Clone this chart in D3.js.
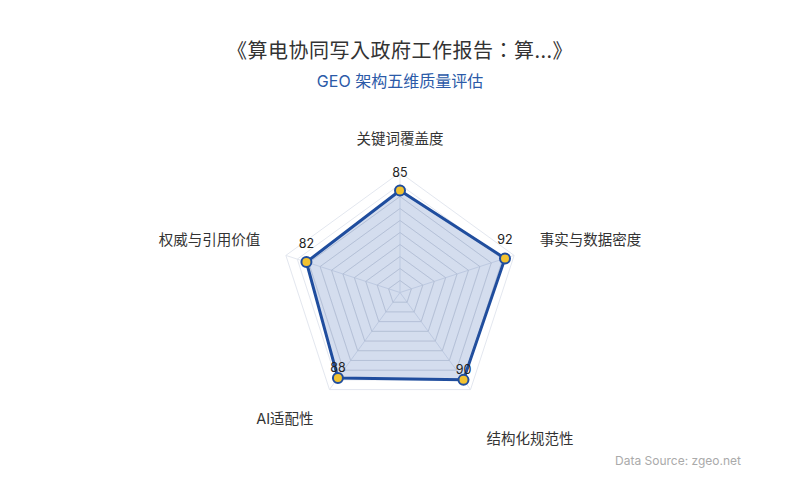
<!DOCTYPE html>
<html>
<head>
<meta charset="utf-8">
<script src="https://cdn.jsdelivr.net/npm/d3@7/dist/d3.min.js"></script>
<style>
  body { margin: 0; background: #fff; }
  svg { display: block; font-family: Inter, "Noto Sans CJK SC", sans-serif; }
</style>
</head>
<body>
<svg id="chart" width="800" height="500"></svg>
<script>
const title = "《算电协同写入政府工作报告：算...》"
const subtitle = "GEO 架构五维质量评估"
const source = "Data Source: zgeo.net"

// axes (clockwise from top) and scores
const dimensions = ["关键词覆盖度", "事实与数据密度", "结构化规范性", "AI适配性", "权威与引用价值"]
const scores = [85, 92, 90, 88, 82]
const maxScore = 100
const ringLevels = [10, 20, 30, 40, 50, 60, 70, 80, 90, 100]

const svg = d3.select("#chart")
const cx = 400, cy = 292.5, R = 120

const r = d3.scaleLinear().domain([0, maxScore]).range([0, R])
const angle = d3.scalePoint().domain(dimensions).range([0, 2 * Math.PI * 4 / 5])

function pt(dim, v) {
  const a = angle(dim) - Math.PI / 2
  return [cx + r(v) * Math.cos(a), cy + r(v) * Math.sin(a)]
}

// titles
svg.append("text")
  .attr("x", 400).attr("y", 58)
  .attr("text-anchor", "middle")
  .attr("font-size", 20)
  .attr("letter-spacing", 0.5)
  .attr("font-family", "'Noto Sans CJK JP', sans-serif")
  .attr("fill", "#333")
  .text(title)

svg.append("text")
  .attr("x", 400).attr("y", 87)
  .attr("text-anchor", "middle")
  .attr("font-size", 16)
  .attr("fill", "#2b5aa8")
  .text(subtitle)

// grid rings
const g = svg.append("g")
g.selectAll("polygon.ring")
  .data(ringLevels)
  .join("polygon")
  .attr("class", "ring")
  .attr("points", d => dimensions.map(k => pt(k, d).join(",")).join(" "))
  .attr("fill", "none")
  .attr("stroke", "#e3e7ef")
  .attr("stroke-width", 1)

// spokes
g.selectAll("line.spoke")
  .data(dimensions)
  .join("line")
  .attr("class", "spoke")
  .attr("x1", cx).attr("y1", cy)
  .attr("x2", d => pt(d, maxScore)[0])
  .attr("y2", d => pt(d, maxScore)[1])
  .attr("stroke", "#e3e7ef")

// data area
const pts = dimensions.map((d, i) => pt(d, scores[i]))
g.append("polygon")
  .attr("points", pts.map(p => p.join(",")).join(" "))
  .attr("fill", "rgba(40,85,170,0.2)")
  .attr("stroke", "#1f4d9e")
  .attr("stroke-width", 3)
  .attr("stroke-linejoin", "round")

// grid lines show through the fill
svg.append("clipPath").attr("id", "clipArea")
  .append("polygon")
  .attr("points", pts.map(p => p.join(",")).join(" "))

g.selectAll("polygon.ringIn")
  .data(ringLevels)
  .join("polygon")
  .attr("class", "ringIn")
  .attr("points", d => dimensions.map(k => pt(k, d).join(",")).join(" "))
  .attr("fill", "none")
  .attr("stroke", "rgba(120,130,150,0.12)")
  .attr("clip-path", "url(#clipArea)")

// points
g.selectAll("circle")
  .data(pts)
  .join("circle")
  .attr("cx", d => d[0]).attr("cy", d => d[1])
  .attr("r", 5)
  .attr("fill", "#f2c230")
  .attr("stroke", "#1f4d9e")
  .attr("stroke-width", 2)

// value labels
g.selectAll("text.val")
  .data(pts)
  .join("text")
  .attr("class", "val")
  .attr("x", d => d[0])
  .attr("y", d => d[1] - (d[1] > cy ? 6 : 14))
  .attr("text-anchor", "middle")
  .attr("font-size", 12.5)
  .attr("fill", "#222")
  .text((d, i) => scores[i])

// axis names
const nameR = R + 27
g.selectAll("text.name")
  .data(dimensions)
  .join("text")
  .attr("class", "name")
  .each(function (d) {
    const a = angle(d) - Math.PI / 2
    const c = Math.cos(a), s = Math.sin(a)
    const x = cx + nameR * c, y = cy + nameR * s
    const anchor = Math.abs(c) < 0.1 ? "middle" : c > 0 ? "start" : "end"
    let ty = Math.abs(s) < 0.1 ? y + 5 : s > 0 ? y + 13 : y - 2
    if (c > 0.1 && s > 0.1) ty += 20
    d3.select(this)
      .attr("x", x).attr("y", ty)
      .attr("text-anchor", anchor)
  })
  .attr("font-size", 14.5)
  .attr("fill", "#333")
  .text(d => d)

// source
svg.append("text")
  .attr("x", 741).attr("y", 465)
  .attr("text-anchor", "end")
  .attr("font-size", 12)
  .attr("fill", "#aaa")
  .text(source)
</script>
</body>
</html>
